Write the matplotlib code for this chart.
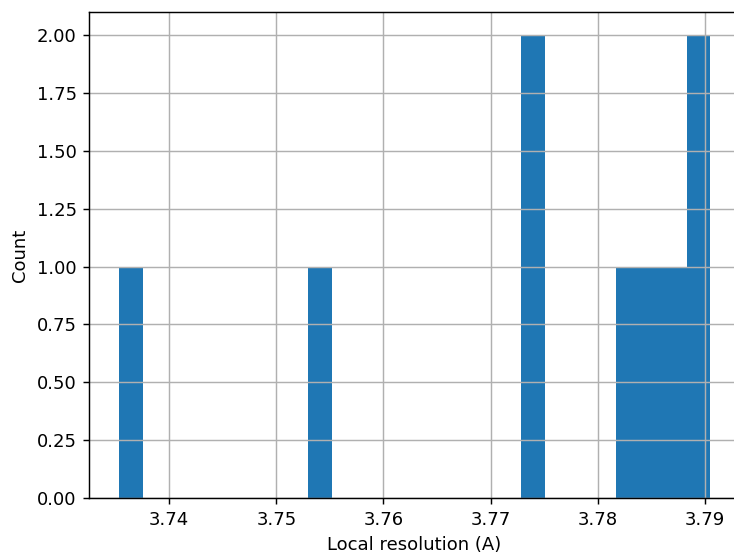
import matplotlib
matplotlib.use("Agg")
import matplotlib.pyplot as plt
import numpy as np

# local resolution values (A)
resolution = [3.7353, 3.7540, 3.7735, 3.7742, 3.7828, 3.7850, 3.7872, 3.7895, 3.7905]
n_bins = 25

dpi = 130
fig = plt.figure(figsize=(734 / dpi, 556 / dpi), dpi=dpi)
ax = fig.add_axes([0.1217, 0.1043, 0.8862, 0.874])

ax.hist(resolution, bins=n_bins, color="#1f77b4")
ax.grid(True)
ax.set_xlabel("Local resolution (A)")
ax.set_ylabel("Count")
ax.yaxis.set_major_formatter(matplotlib.ticker.FormatStrFormatter("%.2f"))

fig.savefig("out.png", dpi=dpi)
